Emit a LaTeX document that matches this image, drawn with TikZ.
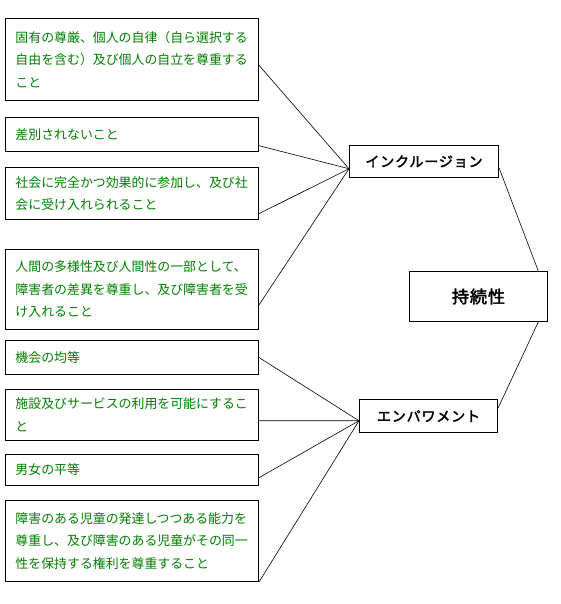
\documentclass[tikz,border=0pt]{standalone}
\usepackage{fontspec}
\setmainfont{Noto Sans CJK JP}
\newfontfamily\cjkb[FakeBold=2.5,LetterSpace=6]{Noto Sans CJK JP}
\usetikzlibrary{calc}
\definecolor{txtgreen}{RGB}{0,128,0}
\tikzset{
  item/.style={draw, line width=1pt, anchor=north west, minimum width=253pt,
    text width=233pt, inner xsep=10pt, align=left, text=txtgreen,
    font=\fontsize{12.9}{22.5}\selectfont},
  hub/.style={draw, line width=1pt, anchor=north west, inner sep=0pt,
    font=\cjkb\fontsize{14}{16}\selectfont},
  link/.style={line width=0.6pt}
}
\begin{document}
\begin{tikzpicture}[x=1pt,y=-1pt]
\useasboundingbox (0,0) rectangle (560,604);
\node[item, minimum height=82pt] (b1) at (5,18) {固有の尊厳、個人の自律（自ら選択する\\自由を含む）及び個人の自立を尊重する\\こと};
\node[item, minimum height=34pt] (b2) at (5,117) {差別されないこと};
\node[item, minimum height=52pt] (b3) at (5,167) {社会に完全かつ効果的に参加し、及び社\\会に受け入れられること};
\node[item, minimum height=80pt] (b4) at (5,249) {人間の多様性及び人間性の一部として、\\障害者の差異を尊重し、及び障害者を受\\け入れること};
\node[item, minimum height=34pt] (b5) at (5,340) {機会の均等};
\node[item, minimum height=51pt] (b6) at (5,389) {施設及びサービスの利用を可能にするこ\\と};
\node[item, minimum height=31pt] (b7) at (5,454) {男女の平等};
\node[item, minimum height=81pt] (b8) at (5,500) {障害のある児童の発達しつつある能力を\\尊重し、及び障害のある児童がその同一\\性を保持する権利を尊重すること};

\node[hub, minimum width=149pt, minimum height=32pt] (inc) at (349,145) {インクルージョン};
\node[hub, minimum width=138pt, minimum height=33pt] (emp) at (359,399) {エンパワメント};
\node[hub, minimum width=138pt, minimum height=50pt, font=\cjkb\fontsize{17}{19}\selectfont] (sus) at (409,271) {持続性};

\coordinate (incL) at ($(inc.north west)!0.72!(inc.south west)$);
\coordinate (empL) at ($(emp.north west)!0.64!(emp.south west)$);
\draw[link] ($(b1.north east)!0.57!(b1.south east)$) -- (incL);
\draw[link] ($(b2.north east)!0.82!(b2.south east)$) -- (incL);
\draw[link] ($(b3.north east)!0.88!(b3.south east)$) -- (incL);
\draw[link] ($(b4.north east)!0.69!(b4.south east)$) -- (incL);
\draw[link] ($(b5.north east)!0.5!(b5.south east)$) -- (empL);
\draw[link] ($(b6.north east)!0.61!(b6.south east)$) -- (empL);
\draw[link] ($(b7.north east)!0.74!(b7.south east)$) -- (empL);
\draw[link] (b8.south east) -- (empL);
\draw[link] ($(inc.north east)!0.69!(inc.south east)$) -- ($(sus.north west)!0.93!(sus.north east)$);
\draw[link] ($(emp.north east)!0.27!(emp.south east)$) -- ($(sus.south west)!0.93!(sus.south east)$);
\end{tikzpicture}
\end{document}
